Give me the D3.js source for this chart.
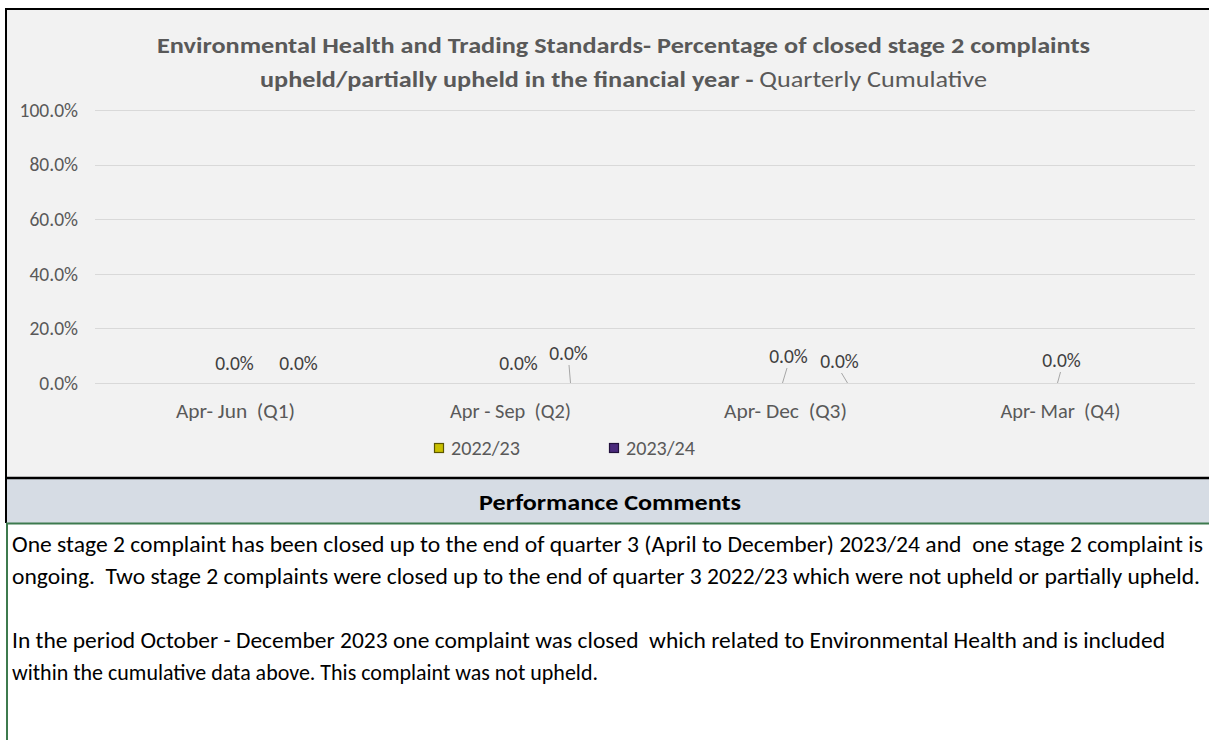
<!DOCTYPE html>
<html>
<head>
<meta charset="utf-8">
<title>Stage 2 complaints upheld</title>
<script src="https://cdn.jsdelivr.net/npm/d3@7/dist/d3.min.js"></script>
<style>
body { margin: 0; background: #ffffff; }
svg { display: block; }
text { font-family: Carlito, Calibri, "Open Sans", sans-serif; }
</style>
</head>
<body>
<svg id="chart" width="1209" height="740"></svg>
<script>
// data
const quarters = ["Apr- Jun  (Q1)", "Apr - Sep  (Q2)", "Apr- Dec  (Q3)", "Apr- Mar  (Q4)"];
const seriesNames = ["2022/23", "2023/24"];
const values2223 = [0, 0, 0, 0];
const values2324 = [0, 0, 0, null];
const yTicks = [0, 0.2, 0.4, 0.6, 0.8, 1.0];
const seriesColors = ["#c9c000", "#4a2a7c"];
const seriesEdges = ["#5b5600", "#22113d"];

// label nudges (pixels) the way they were dragged in the original
const labelNudge = [
  [[2, -13], [66, -13]],
  [[11, -13], [61, -23]],
  [[6, -20], [57, -15]],
  [[4, -16], null]
];
const leaderEnd = [
  [null, null],
  [null, 63],
  [0, 65],
  [0, null]
];
const catWidths = [119, 121, 123, 120];

const titleBold1 = "Environmental Health and Trading Standards- Percentage of closed stage 2 complaints";
const titleBold2 = "upheld/partially upheld in the financial year - ";
const titleNormal2 = "Quarterly Cumulative";
const commentsHeader = "Performance Comments";
const commentLines = [
  "One stage 2 complaint has been closed up to the end of quarter 3 (April to December) 2023/24 and  one stage 2 complaint is",
  "ongoing.  Two stage 2 complaints were closed up to the end of quarter 3 2022/23 which were not upheld or partially upheld.",
  "",
  "In the period October - December 2023 one complaint was closed  which related to Environmental Health and is included",
  "within the cumulative data above. This complaint was not upheld."
];

const svg = d3.select("#chart");
const W = 1209, H = 740;

// frame
svg.append("rect").attr("x", 6).attr("y", 9).attr("width", W - 6).attr("height", 469).attr("fill", "#f2f2f2");
svg.append("rect").attr("x", 6).attr("y", 479).attr("width", W - 6).attr("height", 44).attr("fill", "#d6dce4");
svg.append("line").attr("x1", 5).attr("x2", W).attr("y1", 9).attr("y2", 9).attr("stroke", "#000").attr("stroke-width", 2);
svg.append("line").attr("x1", 5).attr("x2", W).attr("y1", 478).attr("y2", 478).attr("stroke", "#000").attr("stroke-width", 2.5);
svg.append("line").attr("x1", 6).attr("x2", 6).attr("y1", 8).attr("y2", 523).attr("stroke", "#000").attr("stroke-width", 2);
svg.append("line").attr("x1", 6).attr("x2", W).attr("y1", 523.5).attr("y2", 523.5).attr("stroke", "#3d7a4e").attr("stroke-width", 2);
svg.append("line").attr("x1", 7).attr("x2", 7).attr("y1", 523).attr("y2", H).attr("stroke", "#3d7a4e").attr("stroke-width", 2);

// scales
const x = d3.scaleBand().domain(quarters).range([95, 1195]);
const y = d3.scaleLinear().domain([0, 1]).range([383, 110]);
const fmt = d3.format(".1%");
const fs = 19.5;

function fitText(sel, width) {
  sel.attr("textLength", width).attr("lengthAdjust", "spacingAndGlyphs");
}

// gridlines + y labels
const grid = svg.append("g");
grid.selectAll("line").data(yTicks).join("line")
  .attr("x1", 95).attr("x2", 1195)
  .attr("y1", d => Math.round(y(d)) + 0.5).attr("y2", d => Math.round(y(d)) + 0.5)
  .attr("stroke", "#d9d9d9").attr("stroke-width", 1);
grid.selectAll("text").data(yTicks).join("text")
  .attr("x", 78).attr("y", d => y(d)).attr("dy", "0.35em")
  .attr("text-anchor", "end").attr("fill", "#595959").attr("font-size", fs)
  .text(d => fmt(d));

// category labels
svg.append("g").selectAll("text").data(quarters).join("text")
  .attr("x", d => x(d) + x.bandwidth() / 2 + 3).attr("y", 418)
  .attr("text-anchor", "middle").attr("fill", "#595959").attr("font-size", fs)
  .style("white-space", "pre")
  .text(d => d)
  .each(function(d, i) { fitText(d3.select(this), catWidths[i]); });

// bars (zero height) and labels
const allSeries = [values2223, values2324];
const pts = [];
quarters.forEach((q, i) => {
  allSeries.forEach((vals, s) => {
    if (vals[i] == null) return;
    pts.push({q, i, s, v: vals[i]});
  });
});
const sub = d3.scaleBand().domain([0, 1]).range([0, x.bandwidth()]).paddingInner(0.1).paddingOuter(0.6);
svg.append("g").selectAll("rect").data(pts).join("rect")
  .attr("x", d => x(d.q) + sub(d.s)).attr("width", sub.bandwidth())
  .attr("y", d => y(d.v)).attr("height", d => y(0) - y(d.v))
  .attr("fill", d => seriesColors[d.s]);

const cx = q => x(q) + x.bandwidth() / 2;
const lab = svg.append("g");
pts.forEach(d => {
  const n = labelNudge[d.i][d.s];
  const lx = cx(d.q) + n[0], ly = y(d.v) + n[1];
  const e = leaderEnd[d.i][d.s];
  if (e != null) {
    lab.append("line")
      .attr("x1", lx + (e - n[0]) * 0.25).attr("y1", ly + 5)
      .attr("x2", cx(d.q) + e).attr("y2", y(0))
      .attr("stroke", "#a6a6a6").attr("stroke-width", 1);
  }
  lab.append("text").attr("x", lx).attr("y", ly)
    .attr("text-anchor", "middle").attr("fill", "#404040").attr("font-size", fs)
    .text(fmt(d.v));
});

// legend
const legX = [434, 609];
const leg = svg.append("g");
seriesNames.forEach((name, s) => {
  leg.append("rect").attr("x", legX[s] + 0.5).attr("y", 443.5).attr("width", 9).attr("height", 9)
    .attr("fill", seriesColors[s]).attr("stroke", seriesEdges[s]).attr("stroke-width", 1.2);
  const t = leg.append("text").attr("x", legX[s] + 17).attr("y", 455)
    .attr("fill", "#595959").attr("font-size", fs).text(name);
  fitText(t, 69);
});

// title
const t1 = svg.append("text").attr("x", 623.5).attr("y", 53).attr("text-anchor", "middle")
  .attr("fill", "#595959").attr("font-size", 22).attr("font-weight", "bold").text(titleBold1);
fitText(t1, 933);
const t2 = svg.append("text").attr("x", 260).attr("y", 87).attr("fill", "#595959").attr("font-size", 22);
t2.append("tspan").attr("font-weight", "bold").style("white-space", "pre").text(titleBold2);
t2.append("tspan").text(titleNormal2);
fitText(t2, 727);

// comments
const hdr = svg.append("text").attr("x", 610).attr("y", 510).attr("text-anchor", "middle")
  .attr("font-size", 22).attr("font-weight", "bold").attr("fill", "#000").text(commentsHeader);
fitText(hdr, 262);

const widths = [1191, 1188, 0, 1153, 586];
commentLines.forEach((line, i) => {
  if (!line) return;
  const t = svg.append("text").attr("x", 12).attr("y", 552 + i * 32)
    .attr("font-size", 22.5).attr("fill", "#000").style("white-space", "pre").text(line);
  fitText(t, widths[i]);
});
</script>
</body>
</html>
